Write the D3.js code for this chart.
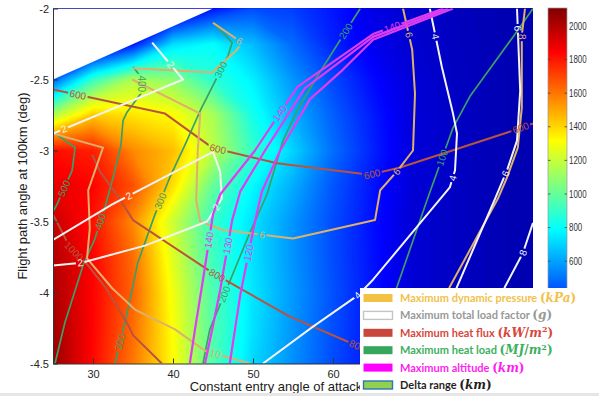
<!DOCTYPE html>
<html>
<head>
<meta charset="utf-8">
<script src="https://cdn.jsdelivr.net/npm/d3@7"></script>
<style>
  html, body { margin: 0; padding: 0; background: #fff; }
  svg { display: block; }
</style>
</head>
<body>
<svg id="chart" width="599" height="396"></svg>
<script>
// ---------- data ----------
// Delta range (km) sampled on a regular grid of entry angle of attack × flight path angle
const aoaGrid = [25, 30, 35, 40, 45, 50, 55, 60, 65, 70, 75, 80, 85];
const fpaGrid = [-2, -2.25, -2.5, -2.75, -3, -3.25, -3.5, -3.75, -4, -4.25, -4.5];
const deltaRange = [
  [100, 100, 100, 100, 300, 420, 390, 305, 210, 160, 130, 110, 100],
  [100, 100, 300, 720, 790, 650, 480, 330, 230, 165, 135, 112, 100],
  [450, 900, 1150, 1080, 880, 760, 570, 410, 280, 180, 140, 115, 100],
  [1150, 1430, 1370, 1320, 1140, 830, 630, 460, 315, 185, 145, 115, 100],
  [1820, 1780, 1560, 1450, 1180, 900, 700, 490, 330, 185, 145, 115, 100],
  [1900, 1840, 1680, 1380, 1000, 780, 620, 440, 300, 180, 140, 115, 100],
  [1960, 1810, 1560, 1210, 900, 730, 570, 420, 290, 175, 140, 115, 100],
  [2000, 1840, 1620, 1250, 920, 730, 570, 420, 295, 175, 140, 115, 100],
  [2020, 1840, 1640, 1290, 950, 740, 580, 430, 300, 175, 140, 115, 100],
  [2040, 1840, 1620, 1310, 960, 730, 570, 425, 300, 175, 140, 115, 100],
  [2060, 1830, 1600, 1320, 960, 710, 560, 420, 300, 175, 140, 115, 100]
];
// region without trajectories
const noDataRegion = [[25, -2], [25, -2.5], [45, -2]];

// Maximum heat flux isolines (kW/m^2)
const heatFlux600 = [[25, -2.57], [39, -2.74], [44.9, -2.98], [53, -3.09], [64.6, -3.17], [68.4, -3.12], [82.5, -2.86], [85, -2.81]];
const heatFlux600Labels = [[28.1, -2.61], [45.6, -2.99], [64.9, -3.17], [83.4, -2.83]];
const heatFlux800 = [[29.9, -3.03], [30.9, -3.15], [33.1, -3.32], [35, -3.49], [44.9, -3.86], [54.6, -4.17], [62.8, -4.37], [67.9, -4.5]];
const heatFlux800Labels = [[45.4, -3.89], [63, -4.38]];
const heatFlux1000 = [[25, -3.45], [27.1, -3.68], [29.4, -3.81], [31.5, -3.96], [34.4, -4.23], [35, -4.3], [38.6, -4.5]];
const heatFlux1000Labels = [[27.6, -3.71]];

// Maximum heat load isolines (MJ/m^2)
const heatLoad500 = [[25, -2.87], [27.75, -2.98], [27.4, -3.14], [25.5, -3.38], [25, -3.43]];
const heatLoad500Labels = [[26.1, -3.26]];
const heatLoad400 = [[35, -2.41], [36.1, -2.49], [36.1, -2.59], [34.25, -2.73], [33.75, -2.79], [33.5, -2.96], [32.6, -3.17], [31.6, -3.38], [30.25, -3.62], [28.75, -3.81], [26.5, -4.21], [25.25, -4.5]];
const heatLoad400Labels = [[36.2, -2.53], [30.9, -3.5]];
const heatLoad300 = [[45, -2.1], [47.4, -2.24], [46.9, -2.33], [43.4, -2.72], [41.5, -2.96], [39.6, -3.19], [37.75, -3.45], [35.6, -3.79], [34.4, -4.11], [32.75, -4.5]];
const heatLoad300Labels = [[45.6, -2.42], [38.6, -3.36], [33.4, -4.35]];
const heatLoad200 = [[63.4, -2], [58, -2.48], [55.5, -2.72], [53.75, -2.93], [51.75, -3.31], [49.6, -3.58], [47.4, -3.88], [44.6, -4.26], [43.75, -4.5]];
const heatLoad200Labels = [[61.9, -2.17], [45.9, -4.0]];
const heatLoad100 = [[85, -2], [82.5, -2.2], [77.1, -2.62], [75, -2.84], [71.75, -3.35], [68, -3.96], [64.75, -4.5]];
const heatLoad100Labels = [[73.6, -3.05]];

// Maximum altitude isolines (km)
const altitude140 = [[73.8, -2], [65, -2.18], [55.6, -2.55], [54.5, -2.64], [50.25, -3], [45.9, -3.31], [45, -3.45], [43.75, -3.91], [42.75, -4.26], [42.1, -4.5]];
const altitude140Labels = [[67.4, -2.13], [53.4, -2.74], [44.4, -3.63]];
const altitude130 = [[74.4, -2], [65, -2.2], [56.5, -2.56], [55.25, -2.67], [51.5, -3], [48.4, -3.29], [47.4, -3.49], [45.9, -3.98], [44.9, -4.26], [44, -4.5]];
const altitude130Labels = [[46.75, -3.67]];
const altitude120 = [[75, -2], [65, -2.22], [61.25, -2.43], [57.1, -2.64], [53.4, -3], [51.1, -3.29], [50.25, -3.5], [48.4, -4.02], [47.75, -4.26], [47.1, -4.5]];
const altitude120Labels = [[49.4, -3.72]];

// Maximum dynamic pressure isolines (kPa)
const dynPressure6a = [[35, -2.42], [44.9, -2.45], [48, -2.29], [48.6, -2.24], [45, -2.1]];
const dynPressure6aLabels = [[48.3, -2.23]];
const dynPressure6b = [[68.75, -2], [69.9, -2.29], [70.25, -2.6], [70, -3], [68.1, -3.14], [65.9, -3.28], [65.25, -3.49], [55, -3.62], [46.25, -3.56], [43.4, -3.5], [42.9, -3.35], [43.1, -3], [43.4, -2.74], [34.9, -2.5]];
const dynPressure6bLabels = [[69.2, -2.19], [68, -3.15], [51.1, -3.61]];
const dynPressure8 = [[84, -2], [83.6, -2.19], [83.6, -2.7], [83.1, -2.98], [81.75, -3.19], [80.6, -3.34], [74.6, -3.96], [70.25, -4.5]];
const dynPressure8Labels = [[83.6, -2.2]];
const dynPressure10 = [[25, -2.88], [31.25, -2.98], [29.4, -3.28], [29.6, -3.55], [29.25, -3.76], [32.4, -3.97], [35.25, -4.12], [40.25, -4.26], [44, -4.41], [49.6, -4.5]];
const dynPressure10Labels = [[45.25, -4.44]];

// Maximum total load factor isolines (g)
const loadFactor2a = [[37.4, -2.24], [41.25, -2.5], [25, -2.88]];
const loadFactor2aLabels = [[39.6, -2.4], [26.4, -2.85]];
const loadFactor2b = [[25, -3.63], [32.4, -3.38], [45, -3.01], [45.9, -3.15], [46.1, -3.34], [44.25, -3.5], [36.5, -3.67], [28.6, -3.79], [25, -3.81]];
const loadFactor2bLabels = [[34.4, -3.31], [45.4, -3.4], [28.4, -3.79]];
const loadFactor4 = [[72.1, -2], [73.6, -2.41], [75, -2.74], [75.5, -2.88], [75.25, -3.14], [74.6, -3.26], [65, -3.91], [63.1, -4.02], [57.5, -4.24], [51.25, -4.5]];
const loadFactor4Labels = [[72.6, -2.2], [75.3, -3.2], [63.1, -4.02]];
const loadFactor6 = [[83, -2], [83.4, -2.58], [83, -2.93], [81.75, -3.14], [80.25, -3.34], [75.5, -3.96], [71.5, -4.5]];
const loadFactor6Labels = [[82.8, -2.14], [81.5, -3.16]];
const loadFactor8 = [[85, -3.51], [83.75, -3.72], [81.5, -3.96], [77.1, -4.5]];
const loadFactor8Labels = [[83.75, -3.72]];

// axis / colour bar ticks
const aoaTicks = [30, 40, 50, 60];
const fpaTicks = [-2, -2.5, -3, -3.5, -4, -4.5];
const colorTicks = [600, 800, 1000, 1200, 1400, 1600, 1800, 2000];
const colorMax = 2107;

// legend entries
const legendNames = ["Maximum dynamic pressure ", "Maximum total load factor ", "Maximum heat flux ",
                     "Maximum heat load ", "Maximum altitude ", "Delta range "];
const legendUnits = [
  [["(", ""], ["kPa", "i"], [")", ""]],
  [["(", ""], ["g", "i"], [")", ""]],
  [["(", ""], ["kW", "i"], ["/", ""], ["m", "i"], ["2", "sup"], [")", ""]],
  [["(", ""], ["MJ", "i"], ["/", ""], ["m", "i"], ["2", "sup"], [")", ""]],
  [["(", ""], ["km", "i"], [")", ""]],
  [["(", ""], ["km", "i"], [")", ""]]
];

// ---------- styles ----------
const lineStyle = {
  q:   { stroke: "#DDB06C", width: 2 },
  n:   { stroke: "#F3F3F3", width: 2 },
  hf:  { stroke: "#B9533F", width: 2 },
  hl:  { stroke: "#3B9F68", width: 1.7 },
  alt: { stroke: "#E03CF0", width: 2.2 }
};
const legendStyle = [
  { fill: "#F3C244", text: "#F2C14A", border: null },
  { fill: "#FFFFFF", text: "#999999", border: "#C4C4C4" },
  { fill: "#C9463A", text: "#D5493C", border: null },
  { fill: "#35A65B", text: "#3DAF61", border: null },
  { fill: "#FF00FF", text: "#FF1EF0", border: null },
  { fill: "#92D050", text: "#1F1F1F", border: "#2E75B6" }
];

const isolines = [
  { kind: "hl", level: "500", pts: heatLoad500, labels: heatLoad500Labels },
  { kind: "hl", level: "400", pts: heatLoad400, labels: heatLoad400Labels },
  { kind: "hl", level: "300", pts: heatLoad300, labels: heatLoad300Labels },
  { kind: "hl", level: "200", pts: heatLoad200, labels: heatLoad200Labels },
  { kind: "hl", level: "100", pts: heatLoad100, labels: heatLoad100Labels },
  { kind: "hf", level: "600", pts: heatFlux600, labels: heatFlux600Labels },
  { kind: "hf", level: "800", pts: heatFlux800, labels: heatFlux800Labels },
  { kind: "hf", level: "1000", pts: heatFlux1000, labels: heatFlux1000Labels },
  { kind: "q", level: "6", pts: dynPressure6a, labels: dynPressure6aLabels },
  { kind: "q", level: "6", pts: dynPressure6b, labels: dynPressure6bLabels },
  { kind: "q", level: "8", pts: dynPressure8, labels: dynPressure8Labels },
  { kind: "q", level: "10", pts: dynPressure10, labels: dynPressure10Labels },
  { kind: "n", level: "2", pts: loadFactor2a, labels: loadFactor2aLabels },
  { kind: "n", level: "2", pts: loadFactor2b, labels: loadFactor2bLabels },
  { kind: "n", level: "4", pts: loadFactor4, labels: loadFactor4Labels },
  { kind: "n", level: "6", pts: loadFactor6, labels: loadFactor6Labels },
  { kind: "n", level: "8", pts: loadFactor8, labels: loadFactor8Labels },
  { kind: "alt", level: "140", pts: altitude140, labels: altitude140Labels },
  { kind: "alt", level: "130", pts: altitude130, labels: altitude130Labels },
  { kind: "alt", level: "120", pts: altitude120, labels: altitude120Labels }
];

// ---------- layout ----------
const W = 599, H = 396;
const M = { left: 53, right: 533, top: 8.5, bottom: 363.5 };
const sans = "'Liberation Sans', Arial, sans-serif";

const x = d3.scaleLinear().domain([25, 85]).range([M.left, M.right]);
const y = d3.scaleLinear().domain([-2, -4.5]).range([M.top, M.bottom]);

// MATLAB-style jet colour map
const jetStops = [0, 0.125, 0.375, 0.625, 0.875, 1];
const jetColors = ["#000080", "#0000ff", "#00ffff", "#ffff00", "#ff0000", "#800000"];
const jet = d3.scaleLinear().domain(jetStops.map(f => f * colorMax)).range(jetColors).clamp(true);

const svg = d3.select("#chart");
const defs = svg.append("defs");
defs.append("clipPath").attr("id", "plotClip")
  .append("rect").attr("x", M.left).attr("y", M.top)
  .attr("width", M.right - M.left).attr("height", M.bottom - M.top);

// ---------- filled contour map of delta range ----------
const nx = aoaGrid.length, ny = fpaGrid.length;
const step = 10;
const gx = d3.scaleLinear().domain(d3.range(nx)).range(aoaGrid).clamp(true);
const gy = d3.scaleLinear().domain(d3.range(ny)).range(fpaGrid).clamp(true);
const gridToScreen = d3.geoTransform({
  point(px, py) { this.stream.point(x(gx(px - 0.5)), y(gy(py - 0.5))); }
});
const bands = d3.contours().size([nx, ny]).thresholds(d3.range(0, colorMax, step))(deltaRange.flat());

const plot = svg.append("g").attr("clip-path", "url(#plotClip)");
plot.append("g").selectAll("path").data(bands).join("path")
  .attr("d", d3.geoPath(gridToScreen))
  .attr("fill", d => jet(d.value + step / 2));

plot.append("path")
  .attr("d", d3.line().x(d => x(d[0])).y(d => y(d[1]))(noDataRegion) + "Z")
  .attr("fill", "#fff");

// ---------- isolines with inline labels ----------
function placeLabel(ptsPx, p) {
  let best = null;
  for (let i = 0; i < ptsPx.length - 1; i++) {
    const [ax, ay] = ptsPx[i], [bx, by] = ptsPx[i + 1];
    const dx = bx - ax, dy = by - ay, L2 = dx * dx + dy * dy;
    let t = L2 ? ((p[0] - ax) * dx + (p[1] - ay) * dy) / L2 : 0;
    t = Math.max(0, Math.min(1, t));
    const qx = ax + t * dx, qy = ay + t * dy;
    const d = (qx - p[0]) ** 2 + (qy - p[1]) ** 2;
    if (!best || d < best.d) best = { d, x: qx, y: qy, ang: Math.atan2(dy, dx) * 180 / Math.PI };
  }
  let a = best.ang;
  if (a > 90) a -= 180;
  if (a < -90) a += 180;
  return { x: best.x, y: best.y, ang: a };
}

const lineGen = d3.line().x(d => x(d[0])).y(d => y(d[1]));
const linesG = plot.append("g");
const labelsG = plot.append("g").attr("font-family", sans).attr("font-size", 10);

isolines.forEach((iso, i) => {
  const st = lineStyle[iso.kind];
  const ptsPx = iso.pts.map(d => [x(d[0]), y(d[1])]);
  const spots = iso.labels.map(d => placeLabel(ptsPx, [x(d[0]), y(d[1])]));
  const gapW = iso.level.length * 5.6 + 3;

  const mask = defs.append("mask").attr("id", "gap" + i)
    .attr("maskUnits", "userSpaceOnUse").attr("x", 0).attr("y", 0).attr("width", W).attr("height", H);
  mask.append("rect").attr("width", W).attr("height", H).attr("fill", "#fff");
  spots.forEach(s => {
    mask.append("rect").attr("x", -gapW / 2).attr("y", -4.5).attr("width", gapW).attr("height", 9)
      .attr("transform", `translate(${s.x},${s.y}) rotate(${s.ang})`).attr("fill", "#000");
  });

  linesG.append("path").attr("d", lineGen(iso.pts))
    .attr("fill", "none").attr("stroke", st.stroke).attr("stroke-width", st.width)
    .attr("stroke-linejoin", "round").attr("mask", `url(#gap${i})`);

  spots.forEach(s => {
    labelsG.append("text")
      .attr("transform", `translate(${s.x},${s.y}) rotate(${s.ang})`)
      .attr("text-anchor", "middle").attr("dy", "0.35em")
      .attr("fill", st.stroke).text(iso.level);
  });
});

// ---------- axes ----------
const yAxis = svg.append("g").attr("transform", `translate(${M.left},0)`)
  .call(d3.axisLeft(y).tickValues(fpaTicks).tickFormat(d => String(d))
        .tickSizeInner(-5).tickSizeOuter(0).tickPadding(4));
const xAxis = svg.append("g").attr("transform", `translate(0,${M.bottom})`)
  .call(d3.axisBottom(x).tickValues(aoaTicks).tickFormat(d => String(d))
        .tickSizeInner(-5).tickSizeOuter(0).tickPadding(7));
[xAxis, yAxis].forEach(g => {
  g.attr("font-family", sans).attr("font-size", 11);
  g.selectAll("path, line").attr("stroke", "#333");
  g.selectAll("text").attr("fill", "#262626");
});

svg.append("text")
  .attr("x", 293).attr("y", 391)
  .attr("text-anchor", "middle")
  .attr("font-family", sans).attr("font-size", 13).attr("fill", "#1a1a1a")
  .text("Constant entry angle of attack (deg)");
svg.append("text")
  .attr("transform", `translate(27,${(M.top + M.bottom) / 2}) rotate(-90)`)
  .attr("text-anchor", "middle")
  .attr("font-family", sans).attr("font-size", 13).attr("fill", "#1a1a1a")
  .text("Flight path angle at 100km (deg)");

// ---------- colour bar ----------
const cb = { x: 548, w: 19 };
const cScale = d3.scaleLinear().domain([0, colorMax]).range([362, 8]);
const grad = defs.append("linearGradient").attr("id", "jetGrad")
  .attr("x1", 0).attr("y1", 1).attr("x2", 0).attr("y2", 0);
jetStops.forEach((f, i) => grad.append("stop").attr("offset", f).attr("stop-color", jetColors[i]));
svg.append("rect")
  .attr("x", cb.x).attr("y", cScale(colorMax)).attr("width", cb.w)
  .attr("height", cScale(0) - cScale(colorMax))
  .attr("fill", "url(#jetGrad)").attr("stroke", "#999").attr("stroke-width", 0.7);
const cbAxis = svg.append("g").attr("transform", `translate(${cb.x + cb.w},0)`)
  .call(d3.axisRight(cScale).tickValues(colorTicks).tickFormat(d => String(d)).tickSize(0).tickPadding(2));
cbAxis.select(".domain").remove();
cbAxis.selectAll("text")
  .attr("font-family", sans).attr("font-size", 10).attr("fill", "#333")
  .attr("textLength", d => String(d).length * 4.4).attr("lengthAdjust", "spacingAndGlyphs");
svg.append("g").selectAll("line").data(colorTicks).join("line")
  .attr("x1", cb.x).attr("x2", cb.x + 2.5)
  .attr("y1", d => cScale(d)).attr("y2", d => cScale(d))
  .attr("stroke", "#444").attr("stroke-width", 0.8);
svg.append("g").selectAll("line").data(colorTicks).join("line")
  .attr("x1", cb.x + cb.w - 2.5).attr("x2", cb.x + cb.w)
  .attr("y1", d => cScale(d)).attr("y2", d => cScale(d))
  .attr("stroke", "#444").attr("stroke-width", 0.8);

// ---------- legend ----------
const lg = svg.append("g");
lg.append("rect").attr("x", 360).attr("y", 288).attr("width", 222).attr("height", 108).attr("fill", "#fff");
legendNames.forEach((name, i) => {
  const cy = 298 + i * 17.4;
  const st = legendStyle[i];
  lg.append("rect")
    .attr("x", 363.5).attr("y", cy - 4).attr("width", 29).attr("height", 8)
    .attr("fill", st.fill)
    .attr("stroke", st.border || "none").attr("stroke-width", st.border ? 1.4 : 0);
  const t = lg.append("text").attr("x", 400).attr("y", cy + 4).attr("fill", st.text);
  t.append("tspan").attr("font-family", "Lato, 'Open Sans', sans-serif")
    .attr("font-weight", "bold").attr("font-size", 11).text(name);
  let shift = 0;
  legendUnits[i].forEach(([s, f]) => {
    const sp = t.append("tspan").attr("font-family", "'DejaVu Serif', serif")
      .attr("font-weight", "bold").attr("font-size", f === "sup" ? 8 : 12)
      .attr("font-style", f === "i" ? "italic" : "normal").text(s);
    if (f === "sup") { sp.attr("dy", -4.5); shift = 4.5; }
    else if (shift) { sp.attr("dy", shift); shift = 0; }
  });
});

// thin frame strip along the lower edge
svg.append("rect").attr("x", 0).attr("y", 393).attr("width", W).attr("height", 3).attr("fill", "#e6e6e6");
</script>
</body>
</html>
